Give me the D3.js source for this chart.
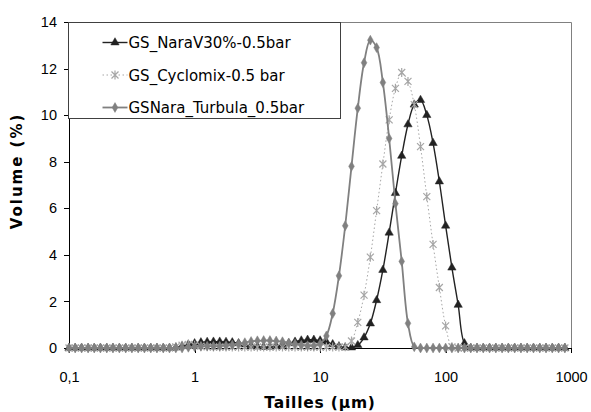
<!DOCTYPE html>
<html>
<head>
<meta charset="utf-8">
<script src="https://cdn.jsdelivr.net/npm/d3@7"></script>
<style>
  body { margin: 0; background: #fff; }
  svg { font-family: "DejaVu Sans", Verdana, sans-serif; }
  .axis text { font-size: 14.5px; fill: #000; }
  .axis path, .axis line { stroke: #000; shape-rendering: crispEdges; }
</style>
</head>
<body>
<div id="chart"></div>
<script>
// particle size bins (µm)
var sizes = [0.100, 0.112, 0.126, 0.142, 0.159, 0.178, 0.200, 0.224, 0.252, 0.283,
  0.317, 0.356, 0.399, 0.448, 0.502, 0.564, 0.632, 0.710, 0.796, 0.893,
  1.002, 1.125, 1.262, 1.416, 1.589, 1.783, 2.000, 2.244, 2.518, 2.825,
  3.170, 3.557, 3.991, 4.477, 5.024, 5.637, 6.325, 7.096, 7.962, 8.934,
  10.024, 11.247, 12.619, 14.159, 15.887, 17.825, 20.000, 22.440, 25.179, 28.251,
  31.698, 35.566, 39.905, 44.774, 50.238, 56.368, 63.246, 70.963, 79.621, 89.337,
  100.237, 112.468, 126.191, 141.589, 158.866, 178.250, 200.000, 224.404, 251.785, 282.508,
  316.979, 355.656, 399.052, 447.744, 502.377, 563.677, 632.456, 709.627, 796.214, 893.367];

var naraV30 = [0, 0, 0, 0, 0, 0, 0, 0, 0, 0,
  0, 0, 0, 0, 0, 0, 0, 0.02, 0.08, 0.15,
  0.2, 0.24, 0.26, 0.27, 0.27, 0.26, 0.24, 0.2, 0.15, 0.1,
  0.06, 0.04, 0.05, 0.08, 0.13, 0.2, 0.27, 0.32, 0.35, 0.35,
  0.32, 0.26, 0.16, 0.07, 0.02, 0.02, 0.12, 0.45, 1.05, 2.05,
  3.35, 4.95, 6.65, 8.25, 9.6, 10.45, 10.65, 10.0, 8.8, 7.15,
  5.25, 3.45, 1.85, 0.2, 0, 0, 0, 0, 0, 0,
  0, 0, 0, 0, 0, 0, 0, 0, 0, 0];

var cyclomix = [0, 0, 0, 0, 0, 0, 0, 0, 0, 0,
  0, 0, 0, 0, 0, 0, 0, 0.05, 0.12, 0.15,
  0.12, 0.08, 0.05, 0.04, 0.04, 0.04, 0.04, 0.04, 0.04, 0.04,
  0.04, 0.04, 0.04, 0.04, 0.04, 0.04, 0.04, 0.04, 0.04, 0.04,
  0.04, 0.04, 0.04, 0.04, 0.05, 0.3, 1.1, 2.27, 3.9, 5.9,
  7.9, 9.8, 11.15, 11.83, 11.45, 10.45, 8.65, 6.5, 4.45, 2.6,
  0.95, 0.05, 0, 0, 0, 0, 0, 0, 0, 0,
  0, 0, 0, 0, 0, 0, 0, 0, 0, 0];

var turbula = [0, 0, 0, 0, 0, 0, 0, 0, 0, 0,
  0, 0, 0, 0, 0, 0, 0, 0, 0, 0.03,
  0.05, 0.07, 0.08, 0.08, 0.08, 0.1, 0.13, 0.18, 0.23, 0.28,
  0.31, 0.32, 0.32, 0.3, 0.27, 0.22, 0.17, 0.12, 0.1, 0.1,
  0.18, 0.52, 1.48, 3.1, 5.25, 7.8, 10.3, 12.25, 13.22, 12.9,
  11.4, 9.0, 6.2, 3.72, 1.06, 0.05, 0, 0, 0, 0,
  0, 0, 0, 0, 0, 0, 0, 0, 0, 0,
  0, 0, 0, 0, 0, 0, 0, 0, 0, 0];

var seriesNames = ["GS_NaraV30%-0.5bar", "GS_Cyclomix-0.5 bar", "GSNara_Turbula_0.5bar"];
var yTicks = [0, 2, 4, 6, 8, 10, 12, 14];
var xTicks = [0.1, 1, 10, 100, 1000];
var xTickLabels = ["0,1", "1", "10", "100", "1000"];

var margin = {top: 22, right: 20, bottom: 64, left: 69};
var width = 591 - margin.left - margin.right,
    height = 412 - margin.top - margin.bottom;

var svg = d3.select("#chart").append("svg")
  .attr("width", 591)
  .attr("height", 412);

var g = svg.append("g")
  .attr("transform", "translate(" + margin.left + "," + margin.top + ")");

var x = d3.scaleLog().domain([0.1, 1000]).range([0, width]);
var y = d3.scaleLinear().domain([0, 14]).range([height, 0]);

// plot frame (top and right in grey)
g.append("path")
  .attr("d", "M0,0.5H" + (width + 0.5) + "V" + height)
  .attr("fill", "none")
  .attr("stroke", "#808080");

var yAxis = d3.axisLeft(y).tickValues(yTicks).tickSize(5).tickPadding(7).tickSizeOuter(0);
g.append("g").attr("class", "axis").call(yAxis);

var xAxis = d3.axisBottom(x).tickValues(xTicks)
  .tickFormat(function(d, i){ return xTickLabels[i]; })
  .tickSize(5).tickPadding(19).tickSizeOuter(0);
g.append("g").attr("class", "axis")
  .attr("transform", "translate(0," + height + ")")
  .call(xAxis);

// axis titles
svg.append("text")
  .attr("x", 320).attr("y", 408)
  .attr("text-anchor", "middle")
  .style("font-weight", "bold").style("font-size", "15.5px")
  .style("letter-spacing", "0.8px")
  .text("Tailles (µm)");

svg.append("text")
  .attr("transform", "translate(22,171) rotate(-90)")
  .attr("text-anchor", "middle")
  .style("font-weight", "bold").style("font-size", "15px")
  .style("letter-spacing", "2px")
  .text("Volume (%)");

// markers
var starPath = "M-3.5,-3.5L3.5,3.5M-3.5,3.5L3.5,-3.5M0,-4.5L0,4.5";
var triPath = d3.symbol().type(d3.symbolTriangle).size(30)();
var diaPath = d3.symbol().type(d3.symbolDiamond).size(28)();

var series = [
  {name: seriesNames[0], values: naraV30, color: "#222", width: 1.4, dash: null, marker: triPath, fill: true},
  {name: seriesNames[1], values: cyclomix, color: "#a6a6a6", width: 1, dash: "1.5,2.5", marker: starPath, fill: false},
  {name: seriesNames[2], values: turbula, color: "#808080", width: 1.8, dash: null, marker: diaPath, fill: true}
];

var line = d3.line()
  .x(function(d){ return x(d.size); })
  .y(function(d){ return y(d.v); })
  .curve(d3.curveCatmullRom);

series.forEach(function(s){
  var pts = sizes.map(function(sz, i){ return {size: sz, v: s.values[i]}; });
  var sg = g.append("g");
  sg.append("path")
    .datum(pts)
    .attr("d", line)
    .attr("fill", "none")
    .attr("stroke", s.color)
    .attr("stroke-width", s.width)
    .attr("stroke-dasharray", s.dash);
  sg.selectAll(".m")
    .data(pts)
    .enter()
    .append("path")
      .attr("transform", function(d){ return "translate(" + x(d.size) + "," + y(d.v) + ")"; })
      .attr("d", s.marker)
      .attr("fill", s.fill ? s.color : "none")
      .attr("stroke", s.color)
      .attr("stroke-width", s.fill ? 0.5 : 1.2);
});

// legend
var legend = svg.append("g").attr("transform", "translate(68.5,22.5)");
legend.append("rect")
  .attr("width", 272).attr("height", 96)
  .attr("fill", "#fff")
  .attr("stroke", "#404040");

series.forEach(function(s, i){
  var row = legend.append("g").attr("transform", "translate(0," + (20 + i * 32.5) + ")");
  row.append("line")
    .attr("x1", 34).attr("x2", 59)
    .attr("stroke", s.color)
    .attr("stroke-width", s.width)
    .attr("stroke-dasharray", s.dash);
  row.append("path")
    .attr("transform", "translate(46.5,0)")
    .attr("d", s.marker)
    .attr("fill", s.fill ? s.color : "none")
    .attr("stroke", s.color)
    .attr("stroke-width", s.fill ? 0.5 : 1.2);
  row.append("text")
    .attr("x", 60).attr("y", 5.5)
    .style("font-size", "15px")
    .text(s.name);
});
</script>
</body>
</html>
